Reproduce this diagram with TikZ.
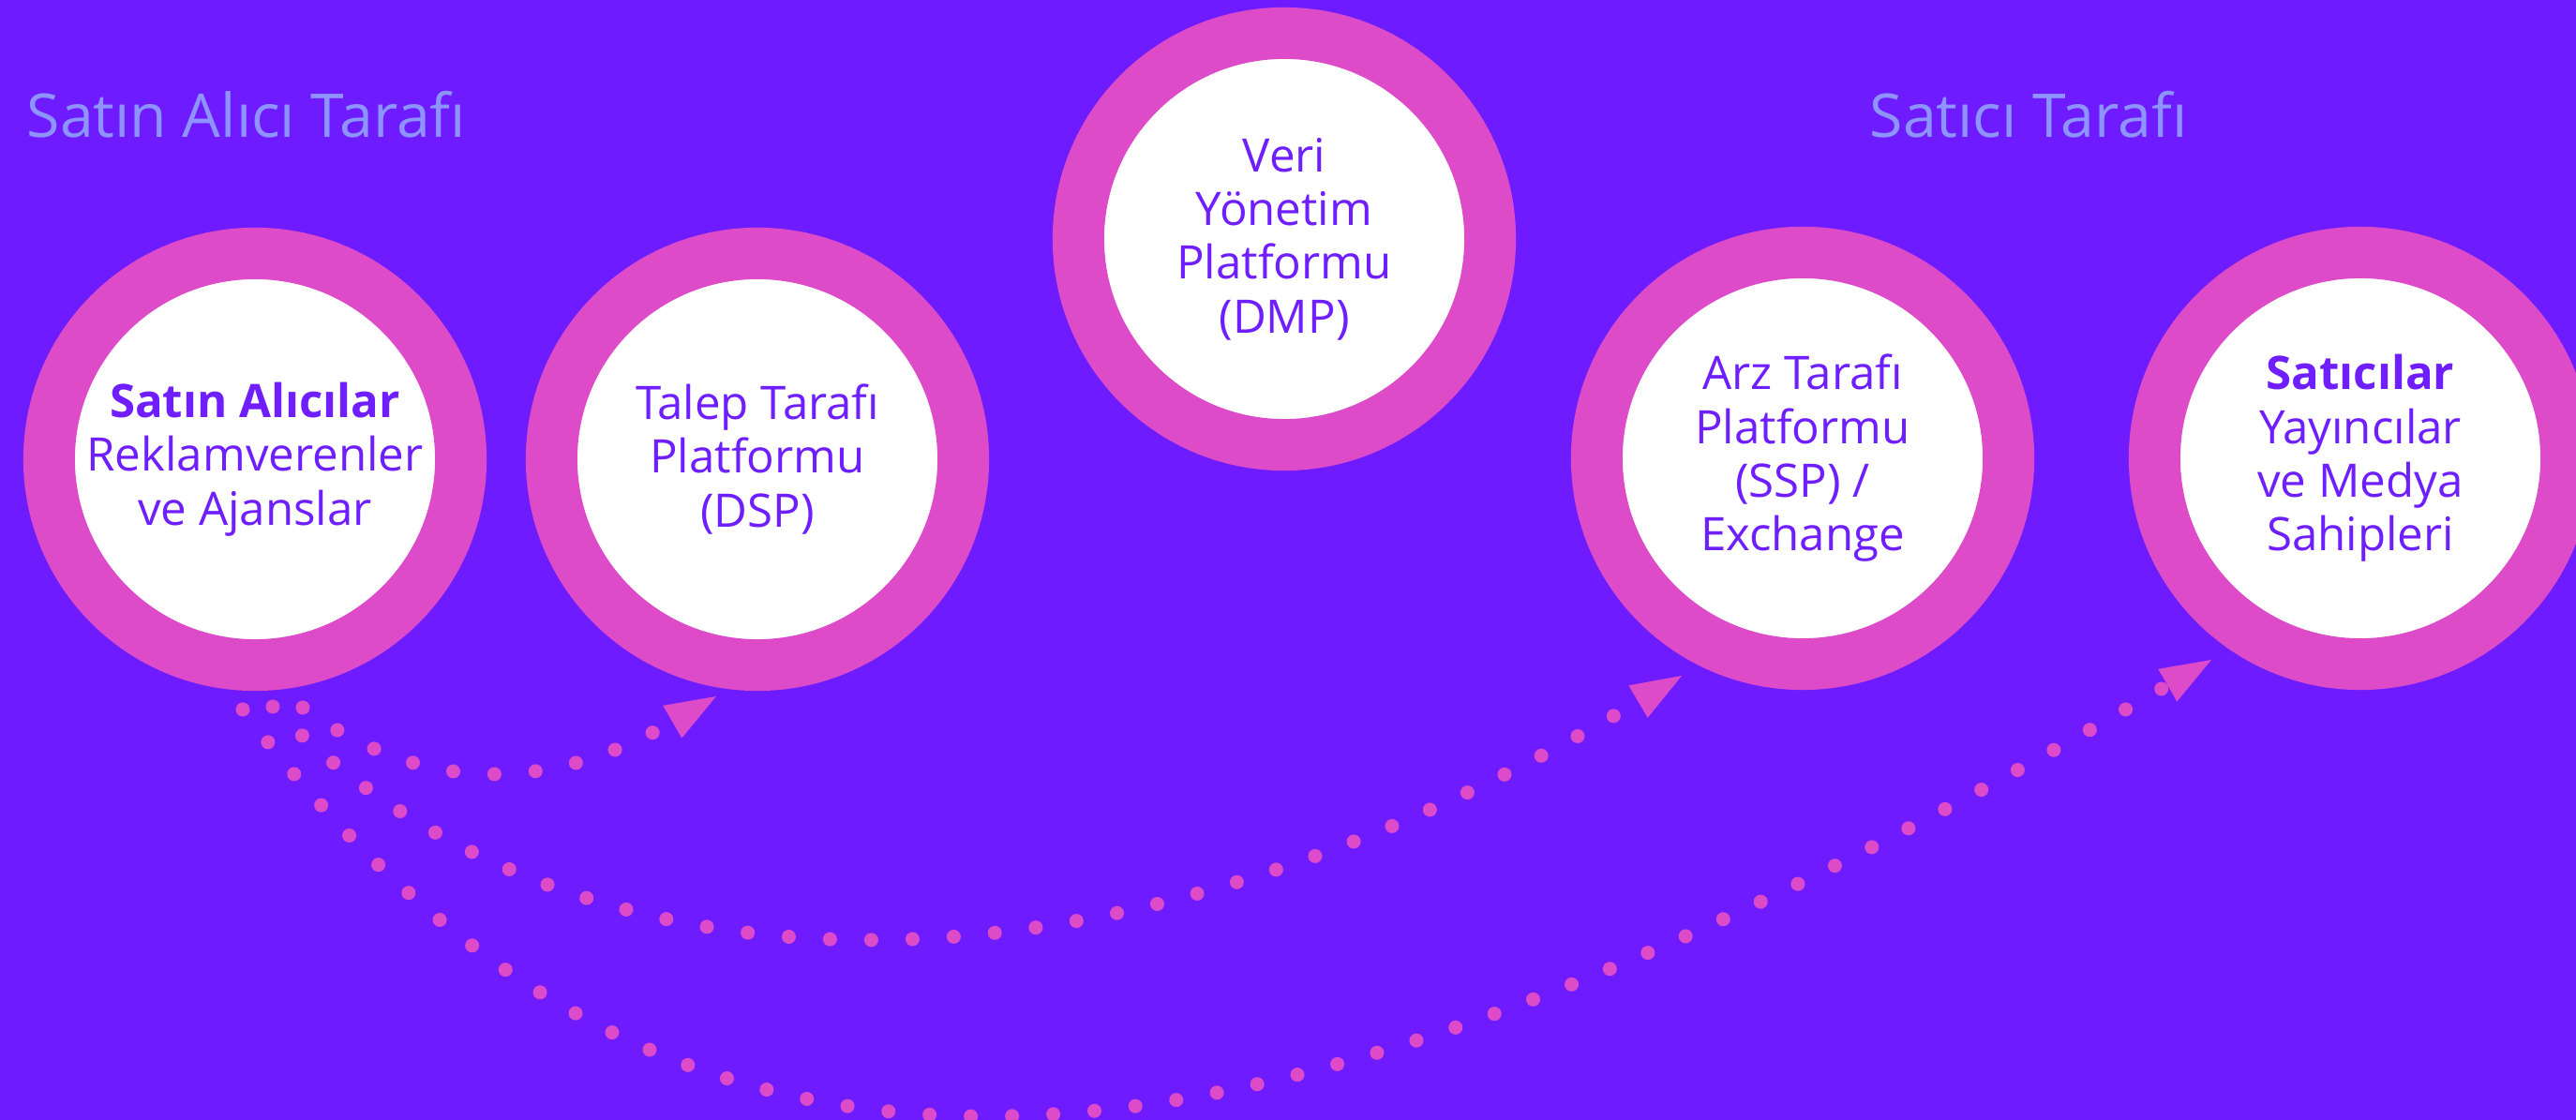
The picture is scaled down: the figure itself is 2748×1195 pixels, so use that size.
\documentclass[tikz,border=0pt]{standalone}
\usepackage{fontspec}
\setmainfont{Open Sans}
\usetikzlibrary{arrows.meta}
\definecolor{bgviolet}{HTML}{6E1CFF}
\definecolor{ringpink}{HTML}{DE4BC8}
\definecolor{sidetext}{HTML}{8E94FF}
\definecolor{nodetext}{HTML}{6E1EFF}
\begin{document}
\begin{tikzpicture}[x=0.01cm, y=-0.01cm,
  ring/.style={circle, draw=ringpink, fill=white, line width=0.55cm, minimum size=4.39cm, inner sep=0pt, align=center, text=nodetext, font=\fontsize{14}{16.3}\selectfont},
  side/.style={anchor=base west, inner sep=0pt, text=sidetext, font=\fontsize{18.3}{22}\selectfont},
  flow/.style={draw=ringpink, line width=0.15cm, line cap=round, dash pattern=on 0pt off 0.44cm, -{Triangle[length=0.54cm, width=0.4cm, line width=0pt]}}]
\useasboundingbox (0,0) rectangle (2748,1195);
\clip (0,0) rectangle (2748,1195);
\fill[bgviolet] (0,0) rectangle (2748,1195);
\node[side] (BS) at (28,147) {Satın Alıcı Tarafı};
\node[side] (SS) at (1994,147) {Satıcı Tarafı};
\node[ring] (SA) at (272,490) {\textbf{Satın Alıcılar}\\Reklamverenler\\ve Ajanslar};
\node[ring] (DSP) at (808,490) {Talep Tarafı\\Platformu\\(DSP)};
\node[ring] (DMP) at (1370,255) {Veri\\Yönetim\\Platformu\\(DMP)};
\node[ring] (SSP) at (1923,489) {Arz Tarafı\\Platformu\\(SSP) /\\Exchange};
\node[ring] (ST) at (2518,489) {\textbf{Satıcılar}\\Yayıncılar\\ve Medya\\Sahipleri};
\coordinate (SA1) at (323,755);
\coordinate (SA2) at (291,754);
\coordinate (SA3) at (259,757);
\coordinate (DSPin) at (764,743);
\coordinate (SSPin) at (1794,721);
\coordinate (STin) at (2359,704);
\draw[flow] (SA1) .. controls (469,861) and (609,833) .. (DSPin);
\draw[flow] (SA2) .. controls (567,1042) and (1106,1129) .. (SSPin);
\draw[flow] (SA3) .. controls (739,1397) and (1370,1279) .. (STin);
\end{tikzpicture}
\end{document}
